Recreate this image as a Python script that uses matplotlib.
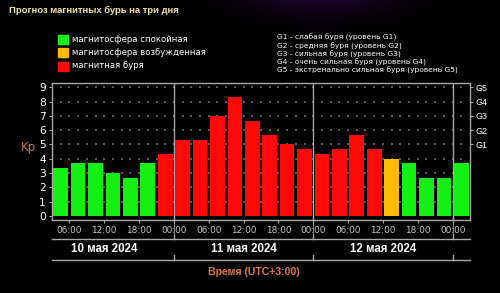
import numpy as np
import matplotlib
matplotlib.use("Agg")
import matplotlib.pyplot as plt
import matplotlib.transforms as mtransforms
from matplotlib.patches import Rectangle
from matplotlib.lines import Line2D

# ---------------- data ----------------
kp_values = [3.33, 3.67, 3.67, 3.0, 2.67, 3.67, 4.33, 5.33, 5.33, 7.0, 8.33, 6.67,
             5.67, 5.0, 4.67, 4.33, 4.67, 5.67, 4.67, 4.0, 3.67, 2.67, 2.67, 3.67]
levels = ["quiet"] * 6 + ["storm"] * 13 + ["active"] + ["quiet"] * 4
start_hour = 3          # first bar starts 10 May 03:00
step_hours = 3
tick_hours = [6, 12, 18, 24, 30, 36, 42, 48, 54, 60, 66, 72]
tick_labels = ["06:00", "12:00", "18:00", "00:00", "06:00", "12:00", "18:00",
               "00:00", "06:00", "12:00", "18:00", "00:00"]
day_bounds = [24, 48, 72]
day_centers = [12, 36, 60]
day_labels = ["10 мая 2024", "11 мая 2024", "12 мая 2024"]
kp_ticks = list(range(10))
g_levels = [5, 6, 7, 8, 9]
g_labels = ["G1", "G2", "G3", "G4", "G5"]
legend_labels = ["магнитосфера спокойная", "магнитосфера возбужденная", "магнитная буря"]
legend_keys = ["quiet", "active", "storm"]
g_legend = ["G1 - слабая буря (уровень G1)",
            "G2 - средняя буря (уровень G2)",
            "G3 - сильная буря (уровень G3)",
            "G4 - очень сильная буря (уровень G4)",
            "G5 - экстренально сильная буря (уровень G5)"]
title = "Прогноз магнитных бурь на три дня"
xlabel = "Время (UTC+3:00)"

colors = {"quiet": "#14f014", "active": "#ffbb00", "storm": "#ff0808"}

# ---------------- figure ----------------
W, H = 500, 293
fig = plt.figure(figsize=(W / 100, H / 100), dpi=100, facecolor="black")

def fx(px):
    return px / W

def fy(py):
    return 1 - py / H

# faint purple glow background
bg = fig.add_axes([0, 0, 1, 1])
yy, xx = np.mgrid[0:H, 0:W]
r = np.sqrt(((xx - 320) / 140.0) ** 2 + ((yy + 10) / 45.0) ** 2)
glow = np.clip(1 - r, 0, 1) ** 1.5
img = np.zeros((H, W, 3))
img[..., 0] = 0.16 * glow
img[..., 1] = 0.03 * glow
img[..., 2] = 0.22 * glow
bg.imshow(img, aspect="auto", extent=[0, 1, 0, 1])
bg.set_axis_off()

ax_left, ax_right, ax_top, ax_bot = 52, 470, 83, 219.5
ax = fig.add_axes([fx(ax_left), fy(ax_bot), fx(ax_right - ax_left), (ax_bot - ax_top) / H])
ax.set_facecolor("black")

x_centers = [start_hour + step_hours * (i + 0.5) for i in range(len(kp_values))]
ax.bar(x_centers, kp_values, width=step_hours * 0.84,
       color=[colors[l] for l in levels], zorder=3)

ax.set_xlim(start_hour, start_hour + step_hours * len(kp_values))
ax.set_ylim(-0.25, 9.3)

# dotted grid
gx = np.arange(start_hour + 1.5, start_hour + step_hours * len(kp_values), 1.5)
for lvl in kp_ticks[1:]:
    ax.scatter(gx, [lvl] * len(gx), s=0.6, marker="s", color="#5a5a5a", lw=0, zorder=1)

for d in day_bounds:
    ax.axvline(d, color="#a8a8a8", lw=1.0, zorder=2)

for s in ax.spines.values():
    s.set_color("#a8a8a8")
    s.set_linewidth(1.0)

ax.set_yticks(kp_ticks)
ax.set_yticklabels([str(k) for k in kp_ticks], fontsize=7.7, color="white",
                   family="DejaVu Sans")
ax.tick_params(axis="y", length=2, width=0.8, color="#a8a8a8", pad=2.5)
ax.set_xticks(tick_hours)
ax.set_xticklabels(tick_labels, fontsize=6.4, color="#c8c8c8", family="DejaVu Sans")
ax.tick_params(axis="x", length=2, width=0.8, color="#a8a8a8", pad=2.5)

# right axis with G levels
axr = ax.twinx()
axr.set_ylim(ax.get_ylim())
axr.set_yticks(g_levels)
axr.set_yticklabels(g_labels, fontsize=6.5, color="white", family="Liberation Sans")
axr.tick_params(axis="y", length=2, width=0.8, color="#a8a8a8", pad=2)
for s in axr.spines.values():
    s.set_visible(False)

# Kp label
fig.text(fx(28), fy(147), "Kp", fontsize=8.5, color="#c8784a", ha="center", va="center",
         family="DejaVu Sans")

# lines below axis
tr = mtransforms.blended_transform_factory(ax.transData, fig.transFigure)
x0, x1 = ax.get_xlim()
line_col = "#a8a8a8"
for ly, tick_top in [(239, 235), (260, 255)]:
    fig.add_artist(Line2D([x0, x1], [fy(ly), fy(ly)], transform=tr, color=line_col, lw=1.0))
    for d in day_bounds:
        fig.add_artist(Line2D([d, d], [fy(ly), fy(tick_top)], transform=tr,
                              color=line_col, lw=1.0))
for d in day_bounds:
    fig.add_artist(Line2D([d, d], [fy(ax_bot), fy(239)], transform=tr,
                          color=line_col, lw=0.8, alpha=0.8))

for c, lab in zip(day_centers, day_labels):
    fig.text(0, fy(249.5), lab, transform=tr, fontsize=8.3, color="white",
             fontweight="bold", ha="center", va="center", family="Liberation Sans")
    fig.texts[-1].set_x(c)

fig.text(fx(254), fy(272), xlabel, fontsize=7.6, color="#e07a45", fontweight="bold",
         ha="center", va="center", family="Liberation Sans")

# title
fig.text(fx(9), fy(10.5), title, fontsize=6.8, color="#f0e2a0", fontweight="bold",
         ha="left", va="center", family="Liberation Sans")

# left legend
leg_y = [39.5, 52.5, 66]
for yv, key, lab in zip(leg_y, legend_keys, legend_labels):
    fig.add_artist(Rectangle((fx(58), fy(yv + 4.5)), fx(10), 9 / H,
                             transform=fig.transFigure, color=colors[key]))
    fig.text(fx(71.5), fy(yv), lab, fontsize=6.1, color="white", ha="left",
             va="center", family="DejaVu Sans")

# right legend
for i, lab in enumerate(g_legend):
    fig.text(fx(277), fy(37.7 + 8.25 * i), lab, fontsize=5.4, color="white",
             ha="left", va="center", family="DejaVu Sans")

fig.savefig("out.png", dpi=100, facecolor="black")
